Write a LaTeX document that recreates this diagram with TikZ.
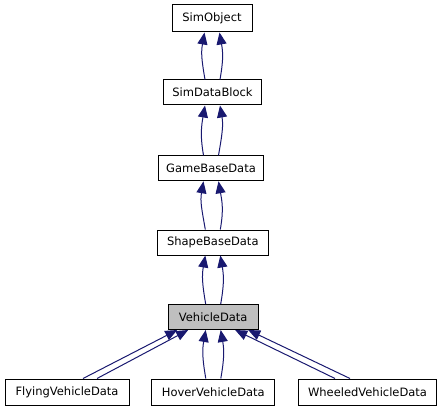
\documentclass[tikz,border=0pt]{standalone}
\usepackage{fontspec}
\setmainfont{DejaVu Sans}
\usetikzlibrary{arrows.meta,calc}
\definecolor{edgeblue}{RGB}{25,25,112}
\definecolor{curgray}{RGB}{191,191,191}
\tikzset{
  cls/.style={draw=black, line width=1pt, fill=white, inner sep=0pt, minimum height=25pt, font=\fontsize{11.5}{13}\selectfont},
  inh/.style={draw=edgeblue, line width=1pt, {Triangle[length=12pt,width=10pt,fill=edgeblue]}-},
}
\begin{document}
\begin{tikzpicture}[x=1pt,y=-1pt]
\useasboundingbox (0,0) rectangle (443,411);
\node[cls, minimum width=80pt, minimum height=27pt] (so) at (212,18.5) {SimObject};
\node[cls, minimum width=98pt] (sdb) at (212.5,92.5) {SimDataBlock};
\node[cls, minimum width=105pt] (gbd) at (211,168.3) {GameBaseData};
\node[cls, minimum width=111pt] (sbd) at (212.8,242.5) {ShapeBaseData};
\node[cls, minimum width=90pt, fill=curgray] (vd) at (213.2,317) {VehicleData};
\node[cls, minimum width=124pt, minimum height=26pt] (fvd) at (67,392) {FlyingVehicleData};
\node[cls, minimum width=123pt, minimum height=26pt] (hvd) at (213.3,392) {HoverVehicleData};
\node[cls, minimum width=138pt, minimum height=26pt] (wvd) at (367.5,392) {WheeledVehicleData};
% vertical pairs
\foreach \p/\c in {so/sdb, sdb/gbd, gbd/sbd, sbd/vd, vd/hvd}{
  \draw[inh] ($(\p.south)+(-7.5,0)$) .. controls ($(\p.south)+(-11,20)$) and ($(\c.north)+(-11,-20)$) .. ($(\c.north)+(-7.5,0)$);
  \draw[inh] ($(\p.south)+(7.5,0)$) .. controls ($(\p.south)+(11,20)$) and ($(\c.north)+(11,-20)$) .. ($(\c.north)+(7.5,0)$);
}
% diagonal pairs
\draw[inh] ($(vd.south)+(-36,0)$) -- ($(fvd.north)+(16,0)$);
\draw[inh] ($(vd.south)+(-25,0)$) -- ($(fvd.north)+(30,0)$);
\draw[inh] ($(vd.south)+(22,0)$) -- ($(wvd.north)+(-32.5,0)$);
\draw[inh] ($(vd.south)+(35,0)$) -- ($(wvd.north)+(-17.5,0)$);
\end{tikzpicture}
\end{document}
